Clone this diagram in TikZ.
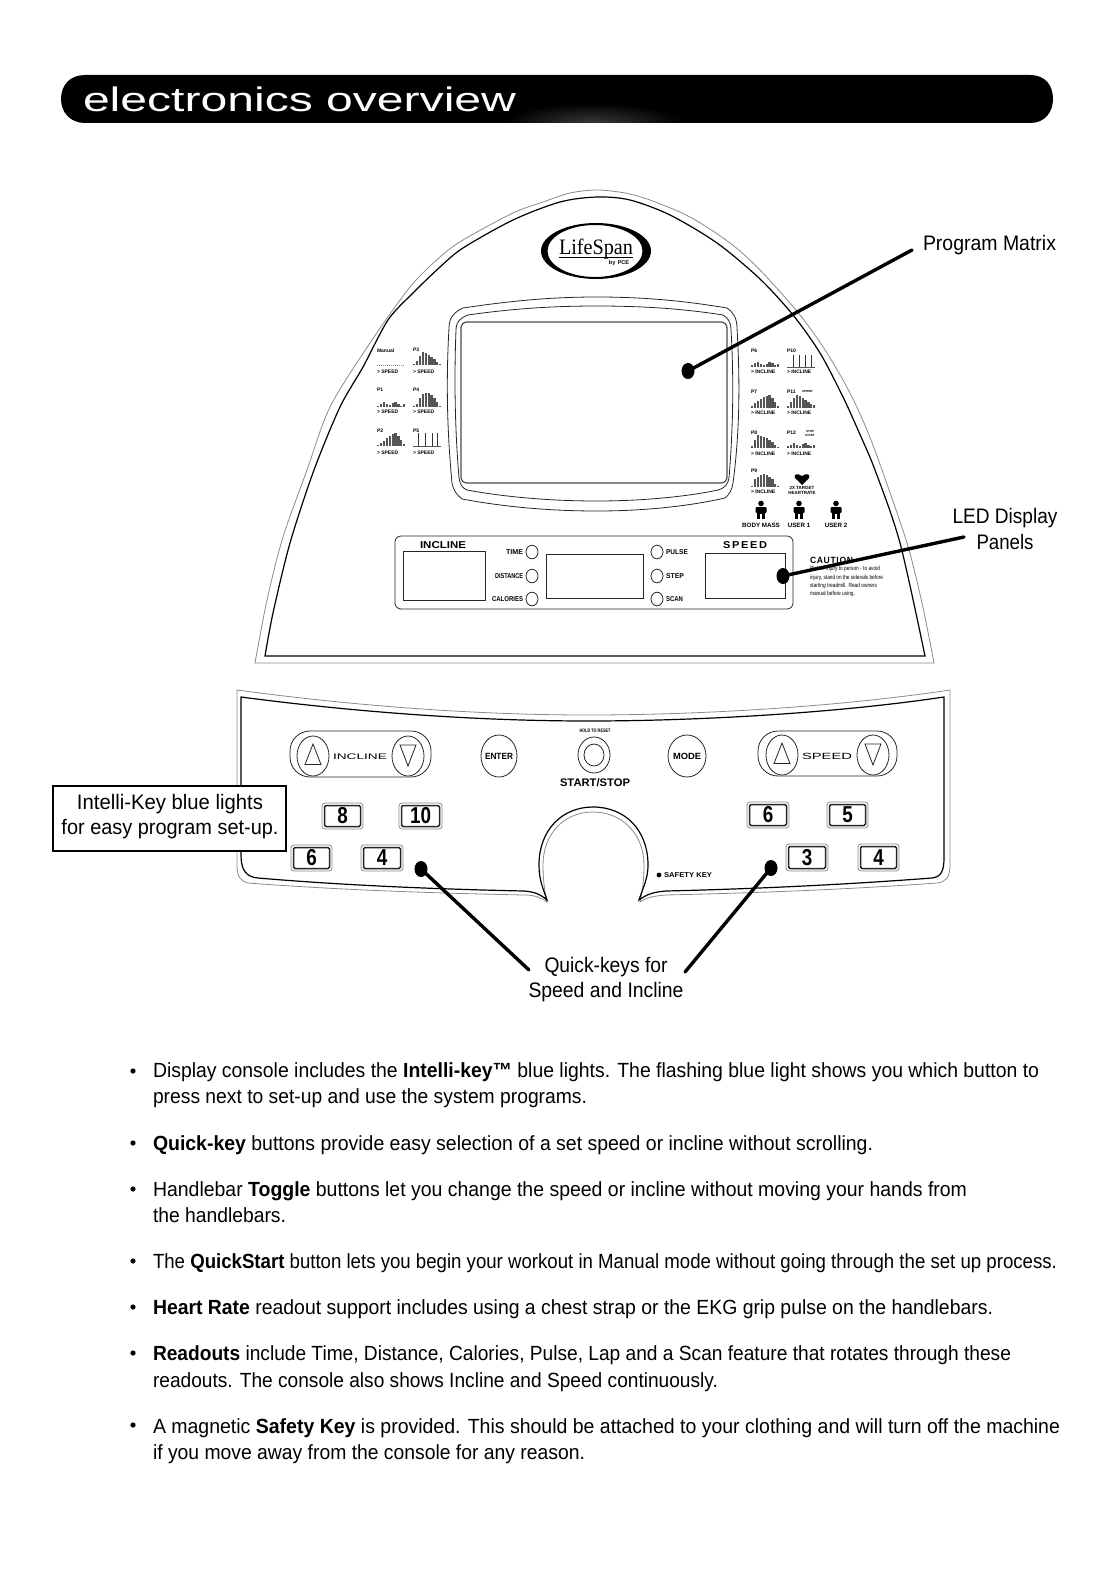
\documentclass[tikz,border=0pt]{standalone}
\usepackage{fontspec}
\usepackage{graphicx}
\usetikzlibrary{shapes.geometric}
\setmainfont{Liberation Sans}
\newfontfamily\logofont{Liberation Serif}
\definecolor{linegray}{HTML}{8A8A8A}
\definecolor{bargray}{HTML}{555555}
\definecolor{glow}{HTML}{383838}
\newcounter{nn}
\newcommand\Fs[1]{\fontsize{#1}{#1}\selectfont}
\newcommand\Fit[2]{\resizebox{#1pt}{\height}{#2}}
\newcommand\Tx[4][]{\stepcounter{nn}\node[tx,#1] (n\arabic{nn}) at (#2,#3) {#4};}
\newcommand\Ln[3]{\stepcounter{nn}\node[bodyline] (n\arabic{nn}) at (153,#1) {\Fit{#2}{#3}};}
\newcommand\Bars[3]{\foreach \h [count=\i from 0] in {#3}{\fill[bargray] ({#1+\i*2.9},#2) rectangle ++(2.2,-\h);}}
\newcommand\Thin[4]{\draw[bargray,line width=.8pt] (#1,#2) -- ++(28,0);\foreach \v in {#4}{\draw[black!80,line width=1pt] (#1+\v,#2) -- (#1+\v,#3);}}
\newcommand\Key[5]{\draw[keyout] (#1,#2) rectangle (#3,#4);\draw[keyin] (#1+2.5,#2+2.5) rectangle (#3-2.5,#4-2.5);
 \stepcounter{nn}\node[keydigit] (n\arabic{nn}) at ({(#1+#3)/2},{(#2+#4)/2}) {\scalebox{.82}[1]{#5}};}
\newcommand\Person[2]{\fill (#1,#2-6.5) circle (2.8);\fill[rounded corners=1pt] (#1-5.5,#2-3) rectangle (#1+5.5,#2+3);\fill (#1-3.6,#2-3) rectangle (#1+3.6,#2+4);\fill (#1-3.6,#2+4) rectangle (#1-.6,#2+9);\fill (#1+.6,#2+4) rectangle (#1+3.6,#2+9);}
\newcommand\Pill[8]{\draw[thinline,rounded corners=20pt] (#1,#2) rectangle (#3,#4);
 \draw[thinline] (#5,#6) ellipse (16 and 20);\draw[thinline] (#7,#8) ellipse (16 and 20);
 \draw[thinline] (#5-8,#6+8.5) -- (#5,#6-12) -- (#5+8,#6+8.5) -- cycle;
 \draw[thinline] (#7-8,#8-11) -- (#7,#8+10) -- (#7+8,#8-11) -- cycle;}
\tikzset{
 tx/.style={inner sep=0pt,outer sep=0pt},
 bodyline/.style={tx,anchor=base west,font=\Fs{20.5}},
 callout/.style={tx,font=\Fs{21}},
 mini/.style={tx,anchor=west,font=\bfseries\Fs{5}},
 panellabel/.style={tx,font=\bfseries\Fs{7}},
 thinline/.style={line width=.8pt,draw=black!85},
 graycon/.style={line width=.8pt,draw=linegray},
 darkcon/.style={line width=1.2pt,draw=black},
 keyout/.style={line width=.8pt,draw=linegray,rounded corners=3pt},
 keyin/.style={line width=1.5pt,draw=black!85,rounded corners=1.5pt},
 keydigit/.style={tx,font=\bfseries\Fs{23}},
 leader/.style={line width=3.4pt,line cap=round,draw=black},
 dot/.style={ellipse,fill=black,inner sep=0pt,minimum width=13pt,minimum height=16pt},
 calloutbox/.style={draw=black,line width=2pt,fill=white,inner sep=0pt,minimum width=233pt,minimum height=65pt}
}
\begin{document}
\begin{tikzpicture}[x=1pt,y=-1pt]
\useasboundingbox (0,0) rectangle (1118,1584);
% header bar
\path[fill=black] (85,75) -- (1030,75) .. controls (1045,75) and (1053,85) .. (1053,99) .. controls (1053,112) and (1045,123) .. (1030,123) -- (85,123) .. controls (70,123) and (61,112) .. (61,99) .. controls (61,85) and (70,75) .. (85,75) -- cycle;
\begin{scope}
\clip (480,100) rectangle (720,123);
\shade[inner color=glow,outer color=black] (593,123) ellipse (90 and 20);
\end{scope}
\node[tx,anchor=base west,text=white,font=\Fs{34}] (title) at (83,112) {\Fit{433}{electronics overview}};
% dome
\draw[graycon] plot[smooth,tension=.5] coordinates {(255,663) (267,600) (283,537) (307,470) (330,407) (370,343) (410,287) (440,257) (463,240) (513,213) (543,202) (570,193) (597,190) (625,193) (650,200) (690,217) (730,243) (760,270) (800,315) (827,353) (850,393) (867,430) (882,470) (907,543) (922,603) (934,663)} -- cycle;
\draw[darkcon] plot[smooth,tension=.5] coordinates {(265,656) (273,613) (290,543) (314,470) (340,407) (363,367) (388,320) (413,293) (440,267) (463,248) (513,220) (560,202) (597,197) (630,200) (670,215) (717,243) (760,279) (793,315) (820,353) (843,397) (858,430) (875,470) (900,543) (925,656)} -- cycle;
% logo
\fill[even odd rule] (596,251) ellipse (55 and 28) (595,251) ellipse (47.5 and 26);
\node[tx,anchor=base,font=\logofont\Fs{22}] (logotxt) at (596,254) {\Fit{74}{LifeSpan}};
\draw[line width=.8pt] (559,257) -- (633,257);
\node[tx,font=\bfseries\Fs{5.5}] (logoby) at (619,263) {by \,PCE};
% screen
\draw[thinline] (463,308) .. controls (510,301) and (550,297) .. (597,297) .. controls (645,297) and (685,301) .. (727,308) .. controls (733,312) and (737,318) .. (737,328) .. controls (740,380) and (740,430) .. (733,483) .. controls (732,490) and (729,495) .. (725,498) .. controls (685,507) and (640,511) .. (597,511) .. controls (550,511) and (505,507) .. (462,499) .. controls (457,495) and (453,490) .. (452,483) .. controls (447,430) and (446,380) .. (449,328) .. controls (449,318) and (454,312) .. (463,308) -- cycle;
\draw[thinline] (468,315) .. controls (510,309) and (550,306) .. (597,306) .. controls (645,306) and (685,309) .. (723,315) .. controls (728,318) and (731,322) .. (731,330) .. controls (734,380) and (733,430) .. (729,478) .. controls (728,484) and (725,488) .. (718,490) .. controls (685,497) and (640,501) .. (597,501) .. controls (550,501) and (505,497) .. (467,490) .. controls (462,488) and (460,484) .. (459,478) .. controls (455,430) and (454,380) .. (456,330) .. controls (456,322) and (460,318) .. (468,315) -- cycle;
\draw[line width=1.2pt,draw=black!70,rounded corners=6pt] (461,322) rectangle (727,483);
% left program charts
\Tx[mini]{377}{351}{Manual}
\draw[linegray,line width=.7pt,dash pattern=on 1pt off 1pt] (377,365) -- (405,365);
\Tx[mini]{377}{372}{> SPEED}
\Tx[mini]{413}{350}{P3}\Bars{413}{365}{1,4,9,13,12,10,8,6,3,1}\Tx[mini]{413}{372}{> SPEED}
\Tx[mini]{377}{390}{P1}\Bars{377}{407}{1,3,5,3,2,4,5,3,1,3}\Tx[mini]{377}{412}{> SPEED}
\Tx[mini]{413}{390}{P4}\Bars{413}{407}{1,3,9,13,14,14,12,9,5,1}\Tx[mini]{413}{412}{> SPEED}
\Tx[mini]{377}{431}{P2}\Bars{377}{446}{1,3,5,8,10,12,13,10,6,2}\Tx[mini]{377}{453}{> SPEED}
\Tx[mini]{413}{431}{P5}\Thin{413}{446}{433}{5,12,19,24}\Tx[mini]{413}{453}{> SPEED}
% right program charts
\Tx[mini]{751}{351}{P6}\Bars{751}{367}{2,4,5,3,2,3,5,4,2,3}\Tx[mini]{751}{372}{> INCLINE}
\Tx[mini]{787}{351}{P10}\Thin{787}{367}{355}{6,12,18,24}\Tx[mini]{787}{372}{> INCLINE}
\Tx[mini]{751}{392}{P7}\Bars{751}{408}{2,5,7,9,11,12,13,10,6,2}\Tx[mini]{751}{413}{> INCLINE}
\Tx[mini]{787}{392}{P11}\Bars{787}{408}{2,6,10,13,12,10,8,6,4,3}\Tx[mini]{787}{413}{> INCLINE}
\Tx[mini,font=\bfseries\Fs{3}]{802}{391}{SPRINT}
\Tx[mini]{751}{433}{P8}\Bars{751}{448}{2,8,13,12,11,10,8,6,3,1}\Tx[mini]{751}{454}{> INCLINE}
\Tx[mini]{787}{433}{P12}\Bars{787}{448}{2,3,5,3,2,4,5,3,2,3}\Tx[mini]{787}{454}{> INCLINE}
\Tx[mini,font=\bfseries\Fs{3}]{806}{431}{STOP}\Tx[mini,font=\bfseries\Fs{3}]{805}{435}{START}
\Tx[mini]{751}{471}{P9}\Bars{751}{487}{1,8,10,12,13,12,10,8,3,1}\Tx[mini]{751}{492}{> INCLINE}
\fill (802,485) -- (795,478) .. controls (793,474) and (798,473) .. (802,476) .. controls (806,473) and (811,474) .. (809,478) -- cycle;
\Tx[font=\bfseries\Fs{4.5}]{802}{488}{2X TARGET}
\Tx[font=\bfseries\Fs{4.5}]{802}{493}{HEARTRATE}
\Person{761}{510}\Person{799}{510}\Person{836}{510}
\Tx[font=\bfseries\Fs{6.2}]{761}{525.5}{BODY MASS}
\Tx[font=\bfseries\Fs{6.2}]{799}{525.5}{USER 1}
\Tx[font=\bfseries\Fs{6.2}]{836}{525.5}{USER 2}
% LED panel
\draw[thinline,rounded corners=6pt] (395,536) rectangle (793,609);
\draw[thinline] (403,551) rectangle (485,600);
\draw[thinline] (546,554) rectangle (643,598);
\draw[thinline] (705,553) rectangle (785,598);
\Tx[font=\bfseries\Fs{10}]{443}{545}{\Fit{46}{INCLINE}}
\Tx[font=\bfseries\Fs{10}]{745}{545}{\Fit{44}{\addfontfeature{LetterSpace=15}SPEED}}
\foreach \yy in {552,576,599}{\draw[thinline] (532,\yy) ellipse (6 and 6.8);\draw[thinline] (657,\yy) ellipse (6 and 6.8);}
\Tx[panellabel,anchor=east]{523}{552}{\Fit{17}{TIME}}
\Tx[panellabel,anchor=east]{523}{576}{\Fit{28}{DISTANCE}}
\Tx[panellabel,anchor=east]{523}{599}{\Fit{31}{CALORIES}}
\Tx[panellabel,anchor=west]{666}{552}{\Fit{22}{PULSE}}
\Tx[panellabel,anchor=west]{666}{576}{\Fit{18}{STEP}}
\Tx[panellabel,anchor=west]{666}{599}{\Fit{17}{SCAN}}
\Tx[anchor=west,font=\bfseries\Fs{9}]{810}{560}{\Fit{43}{\addfontfeature{LetterSpace=8}CAUTION}}
\Tx[anchor=west,font=\Fs{6}]{810}{569}{\Fit{70}{Risk of injury to person - to avoid}}
\Tx[anchor=west,font=\Fs{6}]{810}{577.5}{\Fit{73}{injury, stand on the siderails before}}
\Tx[anchor=west,font=\Fs{6}]{810}{586}{\Fit{67}{starting treadmill. Read owners}}
\Tx[anchor=west,font=\Fs{6}]{810}{594}{\Fit{45}{manual before using.}}
% lower console
\draw[graycon] (237,690) .. controls (370,708) and (490,715) .. (588,715) .. controls (690,715) and (830,708) .. (950,690) -- (950,865) .. controls (950,877) and (946,882) .. (937,883) .. controls (840,890) and (750,893) .. (666,895) .. controls (652,896) and (646,898) .. (640,902) .. controls (643,888) and (644,878) .. (644,865) .. controls (644,834) and (622,812) .. (593,812) .. controls (564,812) and (543,834) .. (543,865) .. controls (543,878) and (544,888) .. (547,902) .. controls (540,897) and (534,895) .. (524,895) .. controls (430,893) and (340,890) .. (248,883) .. controls (240,881) and (237,876) .. (237,865) -- cycle;
\draw[darkcon] (241,697) .. controls (370,714) and (490,721) .. (588,721) .. controls (690,721) and (830,714) .. (944,697) -- (944,858) .. controls (944,871) and (941,877) .. (932,878) .. controls (840,885) and (750,889) .. (666,891) .. controls (652,892) and (646,895) .. (639,900) .. controls (644,885) and (648,878) .. (648,865) .. controls (648,830) and (625,807) .. (593,807) .. controls (562,807) and (539,830) .. (539,865) .. controls (539,880) and (543,888) .. (547,900) .. controls (540,894) and (535,892) .. (524,891) .. controls (430,889) and (340,885) .. (258,878) .. controls (246,877) and (241,870) .. (241,855) -- cycle;
\Pill{290}{731}{431}{777}{313}{756}{408}{756}
\Pill{758}{731}{897}{776}{782}{755}{873}{755}
\Tx[font=\Fs{8}]{360}{757}{\Fit{54}{INCLINE}}
\Tx[font=\Fs{9}]{827}{756}{\Fit{50}{SPEED}}
\draw[thinline] (499,756) ellipse (18 and 21);
\draw[thinline] (687,756) ellipse (19 and 21);
\Tx[font=\bfseries\Fs{9}]{499}{756}{\Fit{28}{ENTER}}
\Tx[font=\bfseries\Fs{9}]{687}{756}{\Fit{28}{MODE}}
\draw[thinline] (594,755) ellipse (16 and 18);
\draw[thinline] (594,755) ellipse (10 and 11);
\Tx[font=\bfseries\Fs{5}]{595}{731}{\Fit{31}{HOLD TO RESET}}
\Tx[font=\bfseries\Fs{11}]{595}{783}{\Fit{70}{START/STOP}}
\Key{322}{803}{363}{829}{8}
\Key{399}{803}{442}{829}{10}
\Key{291}{845}{332}{871}{6}
\Key{361}{845}{403}{871}{4}
\Key{747}{802}{789}{828}{6}
\Key{827}{802}{868}{828}{5}
\Key{786}{844}{828}{871}{3}
\Key{858}{844}{899}{871}{4}
\fill (659,875) circle (2.4);
\Tx[anchor=west,font=\bfseries\Fs{7}]{664}{875}{\Fit{48}{SAFETY KEY}}
% callout box
\node[calloutbox] (ikbox) at (169.5,818.5) {};
\Tx[callout]{170}{804}{\Fit{186}{Intelli-Key blue lights}}
\Tx[callout]{170}{829}{\Fit{217}{for easy program set-up.}}
% leaders
\node[dot] (dPM) at (688,371) {};
\coordinate (ePM) at (912,250);
\draw[leader] (ePM) -- (dPM.center);
\node[dot] (dLED) at (783,576) {};
\coordinate (eLED) at (964,537);
\draw[leader] (eLED) -- (dLED.center);
\node[dot] (dQL) at (421,869) {};
\coordinate (eQL) at (529,970);
\draw[leader] (eQL) -- (dQL.center);
\node[dot] (dQR) at (771,868) {};
\coordinate (eQR) at (685,972);
\draw[leader] (eQR) -- (dQR.center);
% callouts
\Tx[callout,anchor=west]{923}{245}{\Fit{133}{Program Matrix}}
\Tx[callout]{1005}{518}{\Fit{105}{LED Display}}
\Tx[callout]{1005}{542}{\Fit{57}{Panels}}
\Tx[callout]{606}{967}{\Fit{123}{Quick-keys for}}
\Tx[callout]{606}{992}{\Fit{155}{Speed and Incline}}
% bullets
\foreach \by in {1071,1143,1189,1261,1307,1353,1425}{\fill (133,\by) circle (2.6);}
\Ln{1077}{886}{Display console includes the \textbf{Intelli-key™} blue lights. The flashing blue light shows you which button to}
\Ln{1103}{434}{press next to set-up and use the system programs.}
\Ln{1150}{720}{\textbf{Quick-key} buttons provide easy selection of a set speed or incline without scrolling.}
\Ln{1196}{814}{Handlebar \textbf{Toggle} buttons let you change the speed or incline without moving your hands from}
\Ln{1222}{133}{the handlebars.}
\Ln{1268}{904}{The \textbf{QuickStart} button lets you begin your workout in Manual mode without going through the set up process.}
\Ln{1314}{840}{\textbf{Heart Rate} readout support includes using a chest strap or the EKG grip pulse on the handlebars.}
\Ln{1360}{858}{\textbf{Readouts} include Time, Distance, Calories, Pulse, Lap and a Scan feature that rotates through these}
\Ln{1387}{565}{readouts. The console also shows Incline and Speed continuously.}
\Ln{1433}{907}{A magnetic \textbf{Safety Key} is provided. This should be attached to your clothing and will turn off the machine}
\Ln{1459}{432}{if you move away from the console for any reason.}
\end{tikzpicture}
\end{document}
